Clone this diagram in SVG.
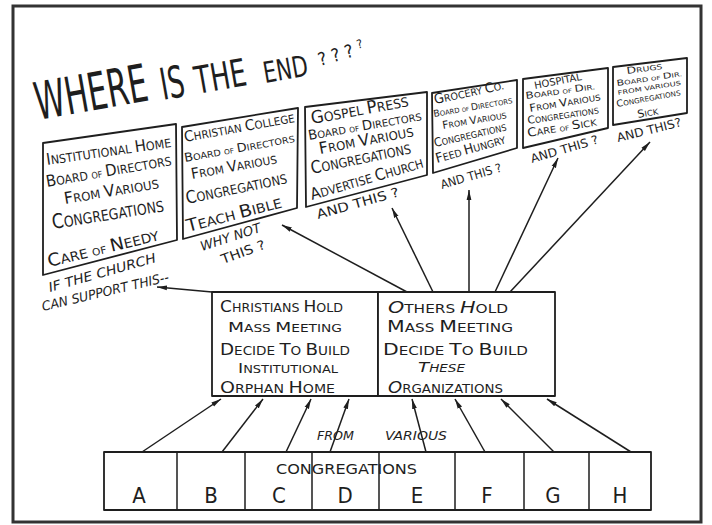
<svg xmlns="http://www.w3.org/2000/svg" width="712" height="525" viewBox="0 0 712 525">
  <style>
    text { font-family: "Liberation Sans Narrow", "DejaVu Sans Condensed", "Liberation Sans", sans-serif; fill: #1e1e1e; }
    .c { font-size: 1.35em; }
    .box { fill: #fff; stroke: #1e1e1e; stroke-width: 1.8; stroke-linejoin: round; }
    .frame { fill: #fff; stroke: #333; stroke-width: 3; }
    .arrow { fill: none; stroke: #1e1e1e; stroke-width: 1.5; marker-end: url(#head); }
    .it { font-style: italic; }
  </style>
  <defs>
    <marker id="head" viewBox="0 0 10 6" refX="10" refY="3" markerWidth="10" markerHeight="6" markerUnits="userSpaceOnUse" orient="auto">
      <path d="M0,0.6 L10,3 L0,5.4 Z" fill="#1e1e1e"/>
    </marker>
  </defs>

  <!-- page border -->
  <rect class="frame" x="13" y="6" width="688" height="516"/>

  <!-- heading -->
  <g id="title">
    <text x="38" y="120" font-size="52" textLength="114" lengthAdjust="spacingAndGlyphs" transform="rotate(-10 38 120)">WHERE</text>
    <text x="163" y="100" font-size="44" textLength="24" lengthAdjust="spacingAndGlyphs" transform="rotate(-10 163 100)">IS</text>
    <text x="197" y="94" font-size="38" textLength="52" lengthAdjust="spacingAndGlyphs" transform="rotate(-10 197 94)">THE</text>
    <text x="265" y="83" font-size="29" textLength="45" lengthAdjust="spacingAndGlyphs" transform="rotate(-10 265 83)">END</text>
    <text x="320" y="66" font-size="18" transform="rotate(-16 320 66)">? ? ? <tspan font-size="12" dy="-6">?</tspan></text>
  </g>

  <!-- connectors -->
  <g id="connectors">
    <line class="arrow" x1="212" y1="292" x2="157" y2="287"/>
    <line class="arrow" x1="407" y1="292" x2="282" y2="225"/>
    <line class="arrow" x1="433" y1="292" x2="392" y2="208"/>
    <line class="arrow" x1="469" y1="292" x2="469" y2="190"/>
    <line class="arrow" x1="495" y1="292" x2="558" y2="158"/>
    <line class="arrow" x1="510" y1="292" x2="650" y2="142"/>
    <line class="arrow" x1="142" y1="452" x2="221" y2="399"/>
    <line class="arrow" x1="222" y1="452" x2="263" y2="399"/>
    <line class="arrow" x1="286" y1="452" x2="311" y2="399"/>
    <line class="arrow" x1="330" y1="452" x2="349" y2="399"/>
    <line class="arrow" x1="426" y1="452" x2="412" y2="399"/>
    <line class="arrow" x1="485" y1="452" x2="455" y2="399"/>
    <line class="arrow" x1="554" y1="452" x2="501" y2="399"/>
    <line class="arrow" x1="631" y1="452" x2="547" y2="399"/>
  </g>

  <g id="institutional-home">
    <polygon class="box" points="43,143 176,124 177,240 43,275"/>
    <text x="47" y="165" font-size="12" textLength="126" lengthAdjust="spacingAndGlyphs" transform="rotate(-8.2 47 165)"><tspan class="c">I</tspan>NSTITUTIONAL <tspan class="c">H</tspan>OME</text>
    <text x="47" y="187" font-size="12" textLength="127" lengthAdjust="spacingAndGlyphs" transform="rotate(-10 47 187)"><tspan class="c">B</tspan>OARD <tspan font-size="9">OF</tspan> <tspan class="c">D</tspan>IRECTORS</text>
    <text x="65" y="204" font-size="12" textLength="96" lengthAdjust="spacingAndGlyphs" transform="rotate(-9.6 65 204)"><tspan class="c">F</tspan>ROM <tspan class="c">V</tspan>ARIOUS</text>
    <text x="53" y="229" font-size="15" textLength="113" lengthAdjust="spacingAndGlyphs" transform="rotate(-9.1 53 229)"><tspan class="c">C</tspan>ONGREGATIONS</text>
    <text x="49" y="267" font-size="13" textLength="114" lengthAdjust="spacingAndGlyphs" transform="rotate(-13.7 49 267)"><tspan class="c">C</tspan>ARE <tspan font-size="10">OF</tspan> <tspan class="c">N</tspan>EEDY</text>
    <text class="it" x="50" y="292" font-size="13" textLength="111" lengthAdjust="spacingAndGlyphs" transform="rotate(-15.7 50 292)">IF THE CHURCH</text>
    <text class="it" x="43" y="311" font-size="13" textLength="130" lengthAdjust="spacingAndGlyphs" transform="rotate(-13.3 43 311)">CAN SUPPORT THIS--</text>
  </g>

  <g id="christian-college">
    <polygon class="box" points="182,127 298,108 297,208 183,239"/>
    <text x="185" y="142" font-size="11" textLength="112" lengthAdjust="spacingAndGlyphs" transform="rotate(-10.3 185 142)"><tspan class="c">C</tspan>HRISTIAN <tspan class="c">C</tspan>OLLEGE</text>
    <text x="185" y="162" font-size="9" textLength="112" lengthAdjust="spacingAndGlyphs" transform="rotate(-10.3 185 162)"><tspan class="c">B</tspan>OARD <tspan font-size="7">OF</tspan> <tspan class="c">D</tspan>IRECTORS</text>
    <text x="192" y="179" font-size="11" textLength="87" lengthAdjust="spacingAndGlyphs" transform="rotate(-10.5 192 179)"><tspan class="c">F</tspan>ROM <tspan class="c">V</tspan>ARIOUS</text>
    <text x="187" y="204" font-size="13" textLength="103" lengthAdjust="spacingAndGlyphs" transform="rotate(-11.7 187 204)"><tspan class="c">C</tspan>ONGREGATIONS</text>
    <text x="188" y="232" font-size="13" textLength="98" lengthAdjust="spacingAndGlyphs" transform="rotate(-14.7 188 232)"><tspan class="c">T</tspan>EACH <tspan class="c">B</tspan>IBLE</text>
    <text class="it" x="202" y="251" font-size="13" textLength="63" lengthAdjust="spacingAndGlyphs" transform="rotate(-18 202 251)">WHY NOT</text>
    <text x="223" y="264" font-size="13" textLength="46" lengthAdjust="spacingAndGlyphs" transform="rotate(-20 223 264)">THIS ?</text>
  </g>

  <g id="gospel-press">
    <polygon class="box" points="305,107 427,92 427,175 306,207"/>
    <text x="312" y="124" font-size="13" textLength="99" lengthAdjust="spacingAndGlyphs" transform="rotate(-10.4 312 124)"><tspan class="c">G</tspan>OSPEL <tspan class="c">P</tspan>RESS</text>
    <text x="309" y="140" font-size="10" textLength="115" lengthAdjust="spacingAndGlyphs" transform="rotate(-10 309 140)"><tspan class="c">B</tspan>OARD <tspan font-size="7.5">OF</tspan> <tspan class="c">D</tspan>IRECTORS</text>
    <text x="320" y="154" font-size="12" textLength="96" lengthAdjust="spacingAndGlyphs" transform="rotate(-10.7 320 154)"><tspan class="c">F</tspan>ROM <tspan class="c">V</tspan>ARIOUS</text>
    <text x="312" y="174" font-size="13" textLength="102" lengthAdjust="spacingAndGlyphs" transform="rotate(-11.7 312 174)"><tspan class="c">C</tspan>ONGREGATIONS</text>
    <text x="312" y="200" font-size="12" textLength="117" lengthAdjust="spacingAndGlyphs" transform="rotate(-16.3 312 200)"><tspan class="c">A</tspan>DVERTISE <tspan class="c">C</tspan>HURCH</text>
    <text x="318" y="219" font-size="13" textLength="85" lengthAdjust="spacingAndGlyphs" transform="rotate(-15.7 318 219)">AND THIS ?</text>
  </g>

  <g id="grocery-co">
    <polygon class="box" points="432,93 517,80 517,148 433,173"/>
    <text x="435" y="104" font-size="10" textLength="71" lengthAdjust="spacingAndGlyphs" transform="rotate(-12 435 104)"><tspan class="c">G</tspan>ROCERY <tspan class="c">C</tspan>O.</text>
    <text x="434" y="117" font-size="7" textLength="80" lengthAdjust="spacingAndGlyphs" transform="rotate(-10 434 117)"><tspan class="c">B</tspan>OARD <tspan font-size="5.5">OF</tspan> <tspan class="c">D</tspan>IRECTORS</text>
    <text x="443" y="129" font-size="8" textLength="65" lengthAdjust="spacingAndGlyphs" transform="rotate(-9.6 443 129)"><tspan class="c">F</tspan>ROM <tspan class="c">V</tspan>ARIOUS</text>
    <text x="435" y="147" font-size="9" textLength="74" lengthAdjust="spacingAndGlyphs" transform="rotate(-13 435 147)"><tspan class="c">C</tspan>ONGREGATIONS</text>
    <text x="437" y="163" font-size="10" textLength="72" lengthAdjust="spacingAndGlyphs" transform="rotate(-16 437 163)"><tspan class="c">F</tspan>EED <tspan class="c">H</tspan>UNGRY</text>
    <text x="442" y="189" font-size="12" textLength="63" lengthAdjust="spacingAndGlyphs" transform="rotate(-16.4 442 189)">AND THIS ?</text>
  </g>

  <g id="hospital">
    <polygon class="box" points="523,79 608,68 608,128 523,148"/>
    <text x="535" y="89" font-size="10" textLength="48" lengthAdjust="spacingAndGlyphs" transform="rotate(-11 535 89)">HOSPITAL</text>
    <text x="526" y="99" font-size="7" textLength="70" lengthAdjust="spacingAndGlyphs" transform="rotate(-8 526 99)"><tspan class="c">B</tspan>OARD <tspan font-size="5.5">OF</tspan> <tspan class="c">D</tspan>IR.</text>
    <text x="530" y="112" font-size="8" textLength="72" lengthAdjust="spacingAndGlyphs" transform="rotate(-9.5 530 112)"><tspan class="c">F</tspan>ROM <tspan class="c">V</tspan>ARIOUS</text>
    <text x="528" y="124" font-size="8" textLength="72" lengthAdjust="spacingAndGlyphs" transform="rotate(-8.5 528 124)"><tspan class="c">C</tspan>ONGREGATIONS</text>
    <text x="528" y="137" font-size="9" textLength="70" lengthAdjust="spacingAndGlyphs" transform="rotate(-9.5 528 137)"><tspan class="c">C</tspan>ARE <tspan font-size="6.5">OF</tspan> <tspan class="c">S</tspan>ICK</text>
    <text x="532" y="163" font-size="12" textLength="70" lengthAdjust="spacingAndGlyphs" transform="rotate(-16.4 532 163)">AND THIS ?</text>
  </g>

  <g id="drugs">
    <polygon class="box" points="613,67 687,58 687,113 613,125"/>
    <text x="627" y="74" font-size="7" textLength="36" lengthAdjust="spacingAndGlyphs" transform="rotate(-8 627 74)"><tspan class="c">D</tspan>RUGS</text>
    <text x="617" y="86" font-size="6" textLength="66" lengthAdjust="spacingAndGlyphs" transform="rotate(-8.6 617 86)"><tspan class="c">B</tspan>OARD <tspan font-size="5">OF</tspan> <tspan class="c">D</tspan>IR.</text>
    <text x="618" y="95" font-size="6" textLength="64" lengthAdjust="spacingAndGlyphs" transform="rotate(-9 618 95)">FROM VARIOUS</text>
    <text x="617" y="107" font-size="7" textLength="65" lengthAdjust="spacingAndGlyphs" transform="rotate(-10.5 617 107)"><tspan class="c">C</tspan>ONGREGATIONS</text>
    <text x="638" y="118" font-size="8" textLength="21" lengthAdjust="spacingAndGlyphs" transform="rotate(-10 638 118)"><tspan class="c">S</tspan>ICK</text>
    <text x="618" y="142" font-size="12" textLength="66" lengthAdjust="spacingAndGlyphs" transform="rotate(-14 618 142)">AND THIS?</text>
  </g>

  <g id="christians-meeting">
    <rect class="box" x="212" y="292" width="166" height="104"/>
    <text x="220" y="312" font-size="12" textLength="123" lengthAdjust="spacingAndGlyphs"><tspan class="c">C</tspan>HRISTIANS <tspan class="c">H</tspan>OLD</text>
    <text x="228" y="332" font-size="11" textLength="114" lengthAdjust="spacingAndGlyphs"><tspan class="c">M</tspan>ASS <tspan class="c">M</tspan>EETING</text>
    <text x="220" y="355" font-size="12" textLength="130" lengthAdjust="spacingAndGlyphs"><tspan class="c">D</tspan>ECIDE <tspan class="c">T</tspan>O <tspan class="c">B</tspan>UILD</text>
    <text x="238" y="373" font-size="11" textLength="100" lengthAdjust="spacingAndGlyphs"><tspan class="c">I</tspan>NSTITUTIONAL</text>
    <text x="220" y="393" font-size="12" textLength="115" lengthAdjust="spacingAndGlyphs"><tspan class="c">O</tspan>RPHAN <tspan class="c">H</tspan>OME</text>
  </g>

  <g id="others-meeting">
    <rect class="box" x="378" y="292" width="177" height="104"/>
    <text x="388" y="313" font-size="12" textLength="120" lengthAdjust="spacingAndGlyphs"><tspan class="c it">O</tspan>THERS <tspan class="c it">H</tspan>OLD</text>
    <text x="387" y="332" font-size="12" textLength="126" lengthAdjust="spacingAndGlyphs"><tspan class="c">M</tspan>ASS <tspan class="c">M</tspan>EETING</text>
    <text x="383" y="355" font-size="12" textLength="145" lengthAdjust="spacingAndGlyphs"><tspan class="c">D</tspan>ECIDE <tspan class="c">T</tspan>O <tspan class="c">B</tspan>UILD</text>
    <text class="it" x="418" y="372" font-size="11" textLength="47" lengthAdjust="spacingAndGlyphs"><tspan class="c">T</tspan>HESE</text>
    <text x="388" y="393" font-size="12" textLength="115" lengthAdjust="spacingAndGlyphs"><tspan class="c it">O</tspan>RGANIZATIONS</text>
  </g>

  <g id="congregations">
    <rect class="box" x="104" y="452" width="547" height="58"/>
    <path d="M177,452 V510 M245,452 V510 M312,452 V510 M379,452 V510 M455,452 V510 M524,452 V510 M589,452 V510" stroke="#1e1e1e" stroke-width="1.5" fill="none"/>
    <text class="it" x="317" y="440" font-size="12" textLength="37" lengthAdjust="spacingAndGlyphs">FROM</text>
    <text class="it" x="385" y="440" font-size="12" textLength="62" lengthAdjust="spacingAndGlyphs">VARIOUS</text>
    <text x="276" y="474" font-size="14" textLength="141" lengthAdjust="spacingAndGlyphs">CONGREGATIONS</text>
    <g font-size="22" text-anchor="middle">
      <text x="139" y="503">A</text>
      <text x="211" y="503">B</text>
      <text x="279" y="503">C</text>
      <text x="345" y="503">D</text>
      <text x="417" y="503">E</text>
      <text x="487" y="503">F</text>
      <text x="553" y="503">G</text>
      <text x="620" y="503">H</text>
    </g>
  </g>
</svg>
